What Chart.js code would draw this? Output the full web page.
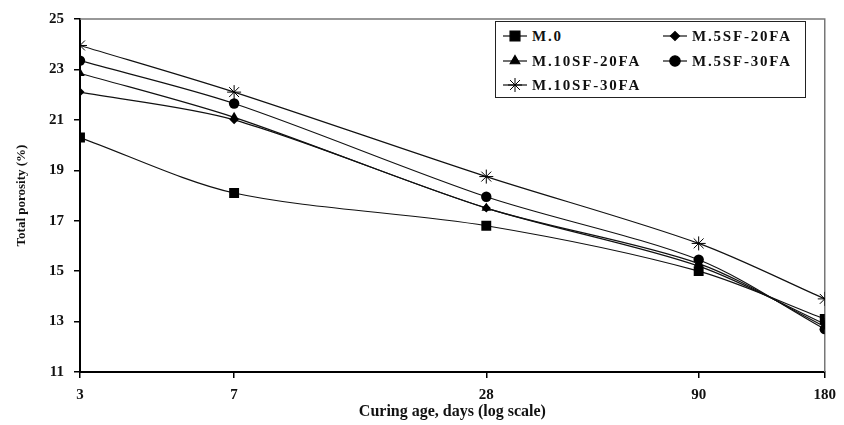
<!DOCTYPE html>
<html>
<head>
<meta charset="utf-8">
<script src="https://cdn.jsdelivr.net/npm/chart.js@4.4.0/dist/chart.umd.min.js"></script>
<style>
  html, body { margin: 0; padding: 0; background: #fff; }
  #wrap { position: relative; width: 844px; height: 425px; }
  #chart { display: block; }
  #legend {
    position: absolute; left: 495px; top: 21px; width: 311px; height: 77px;
    border: 1.5px solid #222; box-sizing: border-box; background: #fff;
    font: bold 15px "Liberation Serif", serif; letter-spacing: 1.8px; color: #111;
  }
  .item { position: absolute; display: flex; align-items: center; height: 24px; white-space: nowrap; }
  .item canvas { margin-right: 4px; }
</style>
</head>
<body>
<div id="wrap">
  <canvas id="chart" width="844" height="425"></canvas>
  <div id="legend"></div>
</div>
<script>
// curing age (days)
const ages = [3, 7, 28, 90, 180];
const seriesNames = ['M.0', 'M.5SF-20FA', 'M.10SF-20FA', 'M.5SF-30FA', 'M.10SF-30FA'];
// total porosity (%)
const m0       = [20.3, 18.1, 16.8, 15.0, 13.1];
const m5sf20fa = [22.1, 21.0, 17.5, 15.2, 12.9];
const m10sf20fa = [22.85, 21.1, 17.5, 15.3, 12.8];
const m5sf30fa = [23.35, 21.65, 17.95, 15.45, 12.7];
const m10sf30fa = [23.95, 22.1, 18.75, 16.1, 13.9];
const yTicks = [11, 13, 15, 17, 19, 21, 23, 25];

const values = [m0, m5sf20fa, m10sf20fa, m5sf30fa, m10sf30fa];
const styles = ['rect', 'rectRot', 'triangle', 'circle', 'star'];
const radii = [7, 4.5, 5.5, 5.2, 7];

const datasets = seriesNames.map((name, i) => ({
  label: name,
  data: ages.map((a, j) => ({ x: a, y: values[i][j] })),
  borderColor: '#111',
  backgroundColor: '#000',
  borderWidth: 1.2,
  pointStyle: styles[i],
  pointRadius: radii[i],
  pointBorderWidth: styles[i] === 'star' ? 1 : 0,
  pointBorderColor: '#000',
  tension: 0.3,
  fill: false
}));

// gray frame on top and right of the plot
const frame = {
  id: 'frame',
  beforeDatasetsDraw(chart) {
    const { ctx, chartArea: a } = chart;
    ctx.save();
    ctx.strokeStyle = '#777';
    ctx.lineWidth = 1.5;
    ctx.beginPath();
    ctx.moveTo(a.left, a.top);
    ctx.lineTo(a.right, a.top);
    ctx.lineTo(a.right, a.bottom);
    ctx.stroke();
    ctx.restore();
  }
};

const tickFont = { family: 'Liberation Serif', size: 15, weight: 'bold' };

const chart = new Chart(document.getElementById('chart'), {
  type: 'line',
  data: { datasets },
  options: {
    responsive: false,
    animation: false,
    layout: { autoPadding: false, padding: { top: 15, right: 18, left: 14, bottom: 0 } },
    plugins: { legend: { display: false }, tooltip: { enabled: false } },
    scales: {
      x: {
        type: 'logarithmic',
        min: 3, max: 180,
        afterBuildTicks: s => { s.ticks = ages.map(v => ({ value: v })); },
        afterFit: s => { s.height = 53; },
        ticks: { color: '#111', font: tickFont, padding: 8, maxRotation: 0,
                 callback: v => String(v) },
        grid: { drawOnChartArea: false, drawTicks: true, tickLength: 6, color: '#000', lineWidth: 1.5 },
        border: { color: '#000', width: 2 },
        title: { display: true, text: 'Curing age, days (log scale)', color: '#111',
                 font: { family: 'Liberation Serif', size: 16, weight: 'bold' }, padding: { top: 0, bottom: 4 } }
      },
      y: {
        min: 11, max: 25,
        afterBuildTicks: s => { s.ticks = yTicks.map(v => ({ value: v })); },
        afterFit: s => { s.width = 66; },
        ticks: { color: '#111', font: tickFont, padding: 10 },
        grid: { drawOnChartArea: false, drawTicks: true, tickLength: 6, color: '#000', lineWidth: 1.5 },
        border: { color: '#000', width: 2 },
        title: { display: true, text: 'Total porosity (%)', color: '#111',
                 font: { family: 'Liberation Serif', size: 13, weight: 'bold' }, padding: { top: 0, bottom: 0 } }
      }
    }
  },
  plugins: [frame]
});

// nudge the padding so the plot area lands where the reference has it
const target = { top: 15, bottom: 372, right: 826 };
const pad = chart.options.layout.padding;
const ca = chart.chartArea;
pad.top += target.top - ca.top;
pad.bottom += ca.bottom - target.bottom;
pad.right += ca.right - target.right;
chart.update();

// legend in a boxed two-column layout, markers drawn with Chart.js helpers
const legendEl = document.getElementById('legend');
const pos = [[6, 2], [166, 2], [6, 27], [166, 27], [6, 51]];
chart.data.datasets.forEach((ds, i) => {
  const item = document.createElement('div');
  item.className = 'item';
  item.style.left = pos[i][0] + 'px';
  item.style.top = pos[i][1] + 'px';
  const c = document.createElement('canvas');
  c.width = 26; c.height = 20;
  const ctx = c.getContext('2d');
  ctx.strokeStyle = '#111'; ctx.lineWidth = 1.2;
  ctx.beginPath(); ctx.moveTo(1, 10); ctx.lineTo(25, 10); ctx.stroke();
  ctx.fillStyle = '#000'; ctx.strokeStyle = '#000'; ctx.lineWidth = ds.pointStyle === 'star' ? 1 : 0;
  Chart.helpers.drawPoint(ctx, { pointStyle: ds.pointStyle, radius: ds.pointRadius, rotation: 0, borderWidth: ctx.lineWidth }, 13, 10);
  item.appendChild(c);
  const t = document.createElement('span');
  t.textContent = ds.label;
  item.appendChild(t);
  legendEl.appendChild(item);
});
</script>
</body>
</html>
